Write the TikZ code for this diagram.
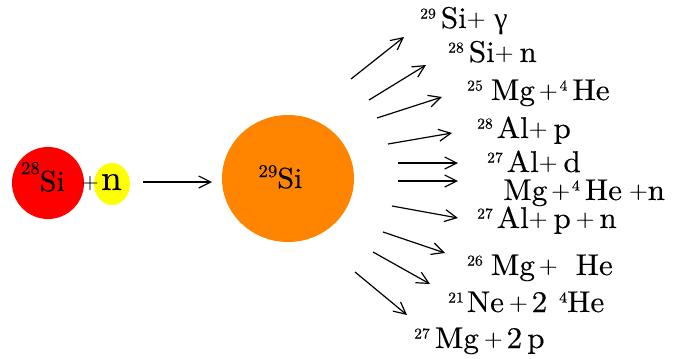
\documentclass[tikz,border=0pt]{standalone}
\usepackage{fontspec}
\setmainfont{lmroman10-regular.otf}[FakeBold=0.35, FakeStretch=1.04]
\newfontfamily\grk{Liberation Serif}
\usetikzlibrary{arrows.meta,shapes.geometric}
\definecolor{nred}{RGB}{255,0,0}
\definecolor{nyel}{RGB}{255,255,0}
\definecolor{norg}{RGB}{255,133,0}
\newcommand{\isor}[1]{\raisebox{9.5pt}{\fontsize{15}{15}\selectfont #1}}
\newcommand{\pls}{\raisebox{2pt}{\fontsize{23}{23}\selectfont +}}
\tikzset{
  lab/.style={anchor=base west, inner sep=0pt, font=\fontsize{30}{32}\selectfont},
  ctr/.style={anchor=base, inner sep=0pt, font=\fontsize{29}{31}\selectfont},
  arr/.style={line width=1.2pt, -{Straight Barb[length=12pt,width=12pt]}},
}
\begin{document}
\begin{tikzpicture}[x=1pt,y=-1pt]
\useasboundingbox (0,0) rectangle (673,359);
% reactants
\node[circle, fill=nred, minimum size=72pt, inner sep=0pt] (si28) at (48,183) {};
\node[ctr] (si28t) at (43,191) {\raisebox{17pt}{\fontsize{18}{18}\selectfont 28}Si};
\node[ellipse, fill=nyel, minimum width=36pt, minimum height=42pt, inner sep=0pt] (n) at (112,184) {};
\node[ctr, font=\fontsize{36}{38}\selectfont] (nt) at (111.5,190) {n};
\node[inner sep=0pt, font=\fontsize{21}{21}\selectfont] (plus) at (90,183) {+};
% compound nucleus
\node[ellipse, fill=norg, minimum width=132pt, minimum height=127pt, inner sep=0pt] (si29) at (288,178.5) {};
\node[ctr] (si29t) at (280.5,188) {\raisebox{11pt}{\fontsize{18}{18}\selectfont 29}Si};
% main arrow
\coordinate (a0) at (143,182);
\coordinate (a1) at (212,182);
\draw[arr] (a0) -- (a1);
% product arrows
\coordinate (t1) at (351,79);  \coordinate (h1) at (404,37);
\coordinate (t2) at (369,100); \coordinate (h2) at (426,65);
\coordinate (t3) at (377,118); \coordinate (h3) at (442,97);
\coordinate (t4) at (388,144); \coordinate (h4) at (452,133);
\coordinate (t5) at (398,163); \coordinate (h5) at (458,163);
\coordinate (t6) at (398,181); \coordinate (h6) at (458,181);
\coordinate (t7) at (392,206); \coordinate (h7) at (458,218);
\coordinate (t8) at (383,232); \coordinate (h8) at (445,253);
\coordinate (t9) at (373,252); \coordinate (h9) at (430,284);
\coordinate (t10) at (355,272); \coordinate (h10) at (407,315);
\foreach \i in {1,...,10} \draw[arr] (t\i) -- (h\i);
% products
\node[lab] (p1) at (420,28) {\isor{29}\hspace{5pt}Si\pls\hspace{9pt}{\grk γ}};
\node[lab] (p2) at (448,62) {\isor{28}\hspace{5pt}Si\pls\hspace{6pt}n};
\node[lab] (p3) at (467,100) {\isor{25}\hspace{8pt}Mg\hspace{4pt}\pls\hspace{2pt}\isor{4}\hspace{5pt}He};
\node[lab] (p4) at (477,138) {\isor{28}\hspace{4pt}Al\pls\hspace{6pt}p};
\node[lab] (p5) at (487,172) {\isor{27}\hspace{4pt}Al\pls\hspace{6pt}d};
\node[lab] (p6) at (503,200) {Mg\hspace{4pt}\pls\hspace{2pt}\isor{4}\hspace{5pt}He\hspace{7pt}\pls n};
\node[lab] (p7) at (477,228) {\isor{27}\hspace{4pt}Al\pls\hspace{6pt}p\hspace{5pt}\pls\hspace{5pt}n};
\node[lab] (p8) at (467,275) {\isor{26}\hspace{8pt}Mg\hspace{4pt}\pls\hspace{18pt}He};
\node[lab] (p9) at (448,312) {\isor{21}\hspace{3pt}Ne\hspace{5pt}\pls\hspace{4pt}2\hspace{12pt}\isor{4}He};
\node[lab] (p10) at (414,348) {\isor{27}\hspace{5pt}Mg\hspace{5pt}\pls\hspace{4pt}2\hspace{5pt}p};
\end{tikzpicture}
\end{document}
